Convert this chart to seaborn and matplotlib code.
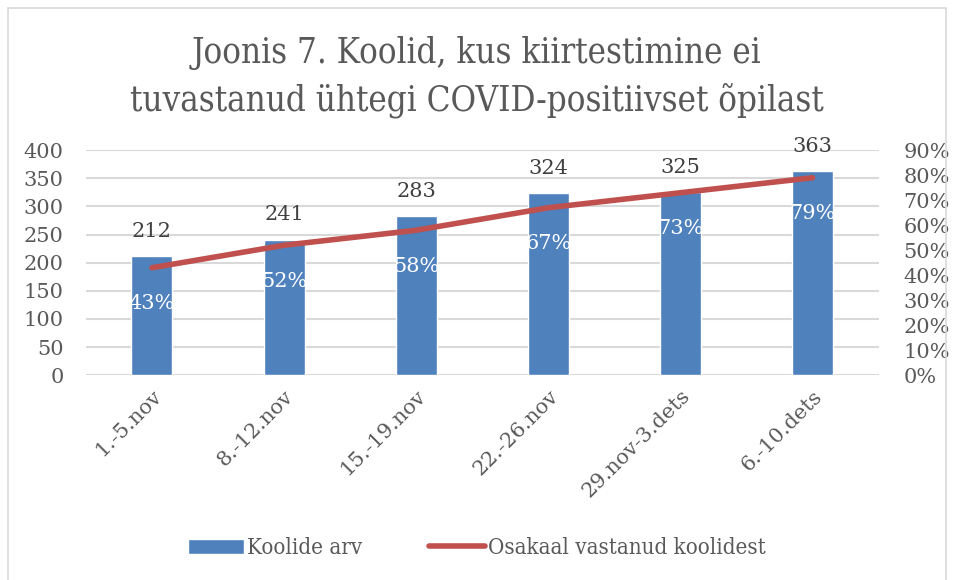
import matplotlib
matplotlib.use("Agg")
import matplotlib.pyplot as plt
from matplotlib.patches import Patch, Rectangle
from matplotlib.lines import Line2D
from matplotlib.ticker import PercentFormatter
import pandas as pd
import seaborn as sns

# --- Data ---
weeks = ["1.-5.nov", "8.-12.nov", "15.-19.nov", "22.-26.nov", "29.nov-3.dets", "6.-10.dets"]
school_counts = [212, 241, 283, 324, 325, 363]
share_responded = [0.43, 0.52, 0.58, 0.67, 0.73, 0.79]

title = "Joonis 7. Koolid, kus kiirtestimine ei\ntuvastanud ühtegi COVID-positiivset õpilast"
bar_label = "Koolide arv"
line_label = "Osakaal vastanud koolidest"

BLUE = "#4f81bd"
RED = "#c0504d"
GRID = "#d9d9d9"
TEXT = "#595959"

df = pd.DataFrame({"week": weeks, "count": school_counts, "share": share_responded})

sns.set_theme(style="white")
plt.rcParams["font.family"] = ["DejaVu Serif"]

fig = plt.figure(figsize=(9.54, 5.80), dpi=100)
ax = fig.add_axes([0.090, 0.353, 0.831, 0.388])

# bars: number of schools (left axis)
sns.barplot(data=df, x="week", y="count", color=BLUE, width=0.31,
            saturation=1, ax=ax, zorder=2)
ax.set_ylim(0, 400)
ax.set_yticks(range(0, 401, 50))
ax.set_xlim(-0.5, len(weeks) - 0.5)
ax.yaxis.grid(True, color=GRID, linewidth=1.5, zorder=0)
ax.set_axisbelow(True)
for s in ax.spines.values():
    s.set_visible(False)
ax.set_xlabel("")
ax.set_ylabel("")
ax.tick_params(axis="y", length=0, labelsize=15, labelcolor=TEXT, pad=16)
ax.tick_params(axis="x", length=0, labelsize=15, labelcolor=TEXT, pad=8)
for lbl in ax.get_xticklabels():
    lbl.set_rotation(45)
    lbl.set_ha("right")
    lbl.set_rotation_mode("anchor")

for i, v in enumerate(school_counts):
    ax.annotate(str(v), (i, v), xytext=(0, 11), textcoords="offset points",
                ha="center", va="bottom", fontsize=15, color="#404040")

# line: share of responding schools (right axis)
ax2 = ax.twinx()
sns.lineplot(data=df, x="week", y="share", color=RED, linewidth=4,
             solid_capstyle="round", ax=ax2, zorder=3)
ax2.set_ylim(0, 0.9)
ax2.set_yticks([i / 10 for i in range(10)])
ax2.yaxis.set_major_formatter(PercentFormatter(1.0, decimals=0))
ax2.tick_params(axis="y", length=0, labelsize=15, labelcolor=TEXT, pad=18)
ax2.set_ylabel("")
for s in ax2.spines.values():
    s.set_visible(False)

for i, v in enumerate(share_responded):
    ax2.annotate(f"{v:.0%}", (i, v), xytext=(0, -26), textcoords="offset points",
                 ha="center", va="center", fontsize=15, color="white")

fig.text(0.5, 0.868, title, ha="center", va="center", fontsize=25,
         fontstretch="condensed", color=TEXT, linespacing=1.45)

handles = [Patch(facecolor=BLUE, label=bar_label),
           Line2D([], [], color=RED, linewidth=4, solid_capstyle="round", label=line_label)]
fig.legend(handles=handles, loc="center", bbox_to_anchor=(0.5, 0.055), ncol=2,
           frameon=False, labelcolor=TEXT, handlelength=2.5,
           prop={"size": 16, "stretch": "condensed"},
           handletextpad=0.15, columnspacing=3.0)

fig.patches.append(Rectangle((8 / 954, -0.01), 938 / 954, 1 - 8 / 580 + 0.01,
                             transform=fig.transFigure, fill=False,
                             edgecolor=GRID, linewidth=1.2))

fig.savefig("out.png", dpi=100)
